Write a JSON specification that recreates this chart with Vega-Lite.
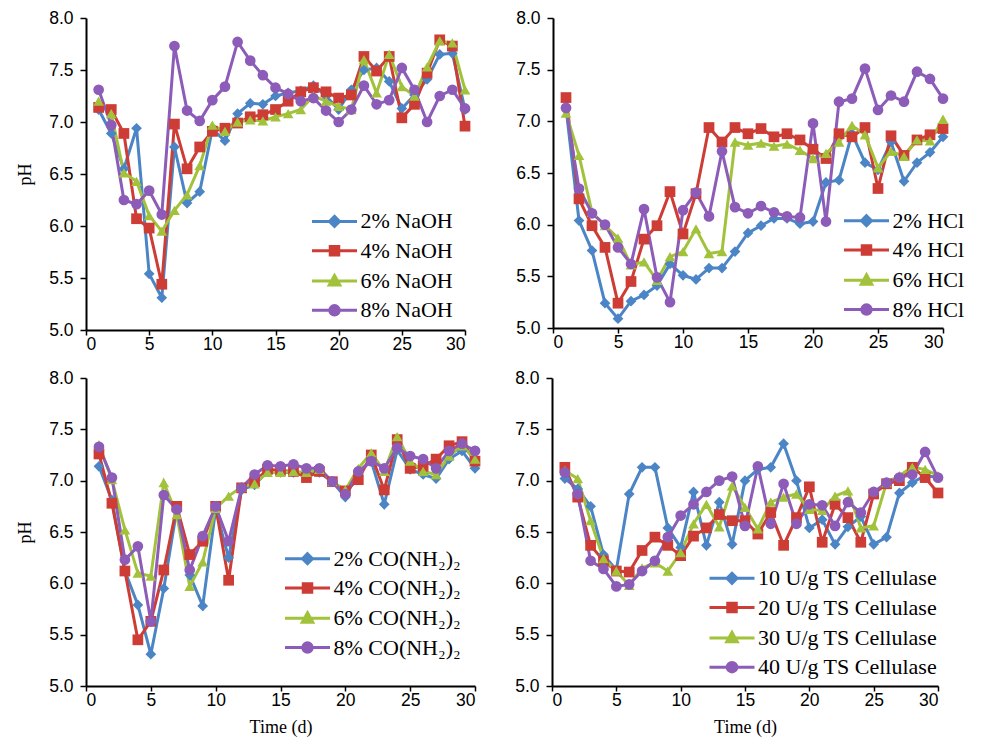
{
  "$schema": "https://vega.github.io/schema/vega-lite/v6.json",
  "background": "white",
  "padding": {"left": 16, "top": 9, "right": 0, "bottom": 0},
  "spacing": 16,
  "datasets": {
    "naoh": [
      {"d":1,"s":"2% NaOH","pH":7.12},{"d":2,"s":"2% NaOH","pH":6.89},{"d":3,"s":"2% NaOH","pH":6.55},{"d":4,"s":"2% NaOH","pH":6.94},{"d":5,"s":"2% NaOH","pH":5.54},{"d":6,"s":"2% NaOH","pH":5.31},{"d":7,"s":"2% NaOH","pH":6.76},{"d":8,"s":"2% NaOH","pH":6.22},{"d":9,"s":"2% NaOH","pH":6.33},{"d":10,"s":"2% NaOH","pH":6.93},{"d":11,"s":"2% NaOH","pH":6.82},{"d":12,"s":"2% NaOH","pH":7.08},{"d":13,"s":"2% NaOH","pH":7.18},{"d":14,"s":"2% NaOH","pH":7.17},{"d":15,"s":"2% NaOH","pH":7.25},{"d":16,"s":"2% NaOH","pH":7.28},{"d":17,"s":"2% NaOH","pH":7.30},{"d":18,"s":"2% NaOH","pH":7.35},{"d":19,"s":"2% NaOH","pH":7.25},{"d":20,"s":"2% NaOH","pH":7.12},{"d":21,"s":"2% NaOH","pH":7.31},{"d":22,"s":"2% NaOH","pH":7.50},{"d":23,"s":"2% NaOH","pH":7.52},{"d":24,"s":"2% NaOH","pH":7.39},{"d":25,"s":"2% NaOH","pH":7.13},{"d":26,"s":"2% NaOH","pH":7.26},{"d":27,"s":"2% NaOH","pH":7.41},{"d":28,"s":"2% NaOH","pH":7.65},{"d":29,"s":"2% NaOH","pH":7.66},{"d":30,"s":"2% NaOH","pH":7.12},
      {"d":1,"s":"4% NaOH","pH":7.14},{"d":2,"s":"4% NaOH","pH":7.12},{"d":3,"s":"4% NaOH","pH":6.89},{"d":4,"s":"4% NaOH","pH":6.07},{"d":5,"s":"4% NaOH","pH":5.98},{"d":6,"s":"4% NaOH","pH":5.44},{"d":7,"s":"4% NaOH","pH":6.98},{"d":8,"s":"4% NaOH","pH":6.55},{"d":9,"s":"4% NaOH","pH":6.76},{"d":10,"s":"4% NaOH","pH":6.91},{"d":11,"s":"4% NaOH","pH":6.94},{"d":12,"s":"4% NaOH","pH":6.99},{"d":13,"s":"4% NaOH","pH":7.05},{"d":14,"s":"4% NaOH","pH":7.07},{"d":15,"s":"4% NaOH","pH":7.12},{"d":16,"s":"4% NaOH","pH":7.20},{"d":17,"s":"4% NaOH","pH":7.29},{"d":18,"s":"4% NaOH","pH":7.33},{"d":19,"s":"4% NaOH","pH":7.29},{"d":20,"s":"4% NaOH","pH":7.23},{"d":21,"s":"4% NaOH","pH":7.26},{"d":22,"s":"4% NaOH","pH":7.63},{"d":23,"s":"4% NaOH","pH":7.49},{"d":24,"s":"4% NaOH","pH":7.63},{"d":25,"s":"4% NaOH","pH":7.04},{"d":26,"s":"4% NaOH","pH":7.17},{"d":27,"s":"4% NaOH","pH":7.47},{"d":28,"s":"4% NaOH","pH":7.79},{"d":29,"s":"4% NaOH","pH":7.73},{"d":30,"s":"4% NaOH","pH":6.96},
      {"d":1,"s":"6% NaOH","pH":7.20},{"d":2,"s":"6% NaOH","pH":7.08},{"d":3,"s":"6% NaOH","pH":6.51},{"d":4,"s":"6% NaOH","pH":6.43},{"d":5,"s":"6% NaOH","pH":6.10},{"d":6,"s":"6% NaOH","pH":5.95},{"d":7,"s":"6% NaOH","pH":6.15},{"d":8,"s":"6% NaOH","pH":6.30},{"d":9,"s":"6% NaOH","pH":6.58},{"d":10,"s":"6% NaOH","pH":6.97},{"d":11,"s":"6% NaOH","pH":6.91},{"d":12,"s":"6% NaOH","pH":7.00},{"d":13,"s":"6% NaOH","pH":7.02},{"d":14,"s":"6% NaOH","pH":7.01},{"d":15,"s":"6% NaOH","pH":7.05},{"d":16,"s":"6% NaOH","pH":7.08},{"d":17,"s":"6% NaOH","pH":7.12},{"d":18,"s":"6% NaOH","pH":7.25},{"d":19,"s":"6% NaOH","pH":7.20},{"d":20,"s":"6% NaOH","pH":7.15},{"d":21,"s":"6% NaOH","pH":7.12},{"d":22,"s":"6% NaOH","pH":7.60},{"d":23,"s":"6% NaOH","pH":7.28},{"d":24,"s":"6% NaOH","pH":7.65},{"d":25,"s":"6% NaOH","pH":7.34},{"d":26,"s":"6% NaOH","pH":7.25},{"d":27,"s":"6% NaOH","pH":7.53},{"d":28,"s":"6% NaOH","pH":7.78},{"d":29,"s":"6% NaOH","pH":7.76},{"d":30,"s":"6% NaOH","pH":7.31},
      {"d":1,"s":"8% NaOH","pH":7.31},{"d":2,"s":"8% NaOH","pH":6.97},{"d":3,"s":"8% NaOH","pH":6.25},{"d":4,"s":"8% NaOH","pH":6.21},{"d":5,"s":"8% NaOH","pH":6.34},{"d":6,"s":"8% NaOH","pH":6.11},{"d":7,"s":"8% NaOH","pH":7.73},{"d":8,"s":"8% NaOH","pH":7.11},{"d":9,"s":"8% NaOH","pH":7.01},{"d":10,"s":"8% NaOH","pH":7.21},{"d":11,"s":"8% NaOH","pH":7.34},{"d":12,"s":"8% NaOH","pH":7.77},{"d":13,"s":"8% NaOH","pH":7.59},{"d":14,"s":"8% NaOH","pH":7.45},{"d":15,"s":"8% NaOH","pH":7.33},{"d":16,"s":"8% NaOH","pH":7.27},{"d":17,"s":"8% NaOH","pH":7.20},{"d":18,"s":"8% NaOH","pH":7.23},{"d":19,"s":"8% NaOH","pH":7.11},{"d":20,"s":"8% NaOH","pH":7.00},{"d":21,"s":"8% NaOH","pH":7.12},{"d":22,"s":"8% NaOH","pH":7.35},{"d":23,"s":"8% NaOH","pH":7.17},{"d":24,"s":"8% NaOH","pH":7.21},{"d":25,"s":"8% NaOH","pH":7.52},{"d":26,"s":"8% NaOH","pH":7.31},{"d":27,"s":"8% NaOH","pH":7.00},{"d":28,"s":"8% NaOH","pH":7.25},{"d":29,"s":"8% NaOH","pH":7.31},{"d":30,"s":"8% NaOH","pH":7.13}
    ],
    "hcl": [
      {"d":1,"s":"2% HCl","pH":7.13},{"d":2,"s":"2% HCl","pH":6.04},{"d":3,"s":"2% HCl","pH":5.75},{"d":4,"s":"2% HCl","pH":5.24},{"d":5,"s":"2% HCl","pH":5.09},{"d":6,"s":"2% HCl","pH":5.26},{"d":7,"s":"2% HCl","pH":5.32},{"d":8,"s":"2% HCl","pH":5.41},{"d":9,"s":"2% HCl","pH":5.62},{"d":10,"s":"2% HCl","pH":5.51},{"d":11,"s":"2% HCl","pH":5.47},{"d":12,"s":"2% HCl","pH":5.58},{"d":13,"s":"2% HCl","pH":5.58},{"d":14,"s":"2% HCl","pH":5.74},{"d":15,"s":"2% HCl","pH":5.92},{"d":16,"s":"2% HCl","pH":5.99},{"d":17,"s":"2% HCl","pH":6.06},{"d":18,"s":"2% HCl","pH":6.06},{"d":19,"s":"2% HCl","pH":6.01},{"d":20,"s":"2% HCl","pH":6.03},{"d":21,"s":"2% HCl","pH":6.41},{"d":22,"s":"2% HCl","pH":6.43},{"d":23,"s":"2% HCl","pH":6.88},{"d":24,"s":"2% HCl","pH":6.60},{"d":25,"s":"2% HCl","pH":6.53},{"d":26,"s":"2% HCl","pH":6.80},{"d":27,"s":"2% HCl","pH":6.42},{"d":28,"s":"2% HCl","pH":6.60},{"d":29,"s":"2% HCl","pH":6.70},{"d":30,"s":"2% HCl","pH":6.85},
      {"d":1,"s":"4% HCl","pH":7.23},{"d":2,"s":"4% HCl","pH":6.25},{"d":3,"s":"4% HCl","pH":5.99},{"d":4,"s":"4% HCl","pH":5.78},{"d":5,"s":"4% HCl","pH":5.24},{"d":6,"s":"4% HCl","pH":5.45},{"d":7,"s":"4% HCl","pH":5.86},{"d":8,"s":"4% HCl","pH":5.99},{"d":9,"s":"4% HCl","pH":6.32},{"d":10,"s":"4% HCl","pH":5.91},{"d":11,"s":"4% HCl","pH":6.30},{"d":12,"s":"4% HCl","pH":6.94},{"d":13,"s":"4% HCl","pH":6.80},{"d":14,"s":"4% HCl","pH":6.94},{"d":15,"s":"4% HCl","pH":6.88},{"d":16,"s":"4% HCl","pH":6.93},{"d":17,"s":"4% HCl","pH":6.85},{"d":18,"s":"4% HCl","pH":6.88},{"d":19,"s":"4% HCl","pH":6.82},{"d":20,"s":"4% HCl","pH":6.73},{"d":21,"s":"4% HCl","pH":6.64},{"d":22,"s":"4% HCl","pH":6.88},{"d":23,"s":"4% HCl","pH":6.85},{"d":24,"s":"4% HCl","pH":6.94},{"d":25,"s":"4% HCl","pH":6.35},{"d":26,"s":"4% HCl","pH":6.86},{"d":27,"s":"4% HCl","pH":6.67},{"d":28,"s":"4% HCl","pH":6.82},{"d":29,"s":"4% HCl","pH":6.87},{"d":30,"s":"4% HCl","pH":6.93},
      {"d":1,"s":"6% HCl","pH":7.08},{"d":2,"s":"6% HCl","pH":6.67},{"d":3,"s":"6% HCl","pH":6.12},{"d":4,"s":"6% HCl","pH":5.99},{"d":5,"s":"6% HCl","pH":5.87},{"d":6,"s":"6% HCl","pH":5.61},{"d":7,"s":"6% HCl","pH":5.64},{"d":8,"s":"6% HCl","pH":5.46},{"d":9,"s":"6% HCl","pH":5.69},{"d":10,"s":"6% HCl","pH":5.74},{"d":11,"s":"6% HCl","pH":5.96},{"d":12,"s":"6% HCl","pH":5.72},{"d":13,"s":"6% HCl","pH":5.74},{"d":14,"s":"6% HCl","pH":6.80},{"d":15,"s":"6% HCl","pH":6.77},{"d":16,"s":"6% HCl","pH":6.79},{"d":17,"s":"6% HCl","pH":6.76},{"d":18,"s":"6% HCl","pH":6.78},{"d":19,"s":"6% HCl","pH":6.72},{"d":20,"s":"6% HCl","pH":6.64},{"d":21,"s":"6% HCl","pH":6.69},{"d":22,"s":"6% HCl","pH":6.80},{"d":23,"s":"6% HCl","pH":6.96},{"d":24,"s":"6% HCl","pH":6.87},{"d":25,"s":"6% HCl","pH":6.55},{"d":26,"s":"6% HCl","pH":6.71},{"d":27,"s":"6% HCl","pH":6.66},{"d":28,"s":"6% HCl","pH":6.82},{"d":29,"s":"6% HCl","pH":6.81},{"d":30,"s":"6% HCl","pH":7.02},
      {"d":1,"s":"8% HCl","pH":7.13},{"d":2,"s":"8% HCl","pH":6.35},{"d":3,"s":"8% HCl","pH":6.11},{"d":4,"s":"8% HCl","pH":6.00},{"d":5,"s":"8% HCl","pH":5.78},{"d":6,"s":"8% HCl","pH":5.62},{"d":7,"s":"8% HCl","pH":6.15},{"d":8,"s":"8% HCl","pH":5.49},{"d":9,"s":"8% HCl","pH":5.25},{"d":10,"s":"8% HCl","pH":6.14},{"d":11,"s":"8% HCl","pH":6.31},{"d":12,"s":"8% HCl","pH":6.08},{"d":13,"s":"8% HCl","pH":6.71},{"d":14,"s":"8% HCl","pH":6.17},{"d":15,"s":"8% HCl","pH":6.11},{"d":16,"s":"8% HCl","pH":6.18},{"d":17,"s":"8% HCl","pH":6.12},{"d":18,"s":"8% HCl","pH":6.08},{"d":19,"s":"8% HCl","pH":6.07},{"d":20,"s":"8% HCl","pH":6.98},{"d":21,"s":"8% HCl","pH":6.03},{"d":22,"s":"8% HCl","pH":7.19},{"d":23,"s":"8% HCl","pH":7.22},{"d":24,"s":"8% HCl","pH":7.51},{"d":25,"s":"8% HCl","pH":7.11},{"d":26,"s":"8% HCl","pH":7.25},{"d":27,"s":"8% HCl","pH":7.19},{"d":28,"s":"8% HCl","pH":7.48},{"d":29,"s":"8% HCl","pH":7.41},{"d":30,"s":"8% HCl","pH":7.22}
    ],
    "urea": [
      {"d":1,"s":"2% CO(NH₂)₂","pH":7.14},{"d":2,"s":"2% CO(NH₂)₂","pH":6.81},{"d":3,"s":"2% CO(NH₂)₂","pH":6.12},{"d":4,"s":"2% CO(NH₂)₂","pH":5.79},{"d":5,"s":"2% CO(NH₂)₂","pH":5.31},{"d":6,"s":"2% CO(NH₂)₂","pH":5.95},{"d":7,"s":"2% CO(NH₂)₂","pH":6.72},{"d":8,"s":"2% CO(NH₂)₂","pH":6.08},{"d":9,"s":"2% CO(NH₂)₂","pH":5.78},{"d":10,"s":"2% CO(NH₂)₂","pH":6.72},{"d":11,"s":"2% CO(NH₂)₂","pH":6.25},{"d":12,"s":"2% CO(NH₂)₂","pH":6.91},{"d":13,"s":"2% CO(NH₂)₂","pH":6.96},{"d":14,"s":"2% CO(NH₂)₂","pH":7.09},{"d":15,"s":"2% CO(NH₂)₂","pH":7.08},{"d":16,"s":"2% CO(NH₂)₂","pH":7.08},{"d":17,"s":"2% CO(NH₂)₂","pH":7.06},{"d":18,"s":"2% CO(NH₂)₂","pH":7.08},{"d":19,"s":"2% CO(NH₂)₂","pH":6.99},{"d":20,"s":"2% CO(NH₂)₂","pH":6.84},{"d":21,"s":"2% CO(NH₂)₂","pH":7.08},{"d":22,"s":"2% CO(NH₂)₂","pH":7.19},{"d":23,"s":"2% CO(NH₂)₂","pH":6.77},{"d":24,"s":"2% CO(NH₂)₂","pH":7.30},{"d":25,"s":"2% CO(NH₂)₂","pH":7.11},{"d":26,"s":"2% CO(NH₂)₂","pH":7.06},{"d":27,"s":"2% CO(NH₂)₂","pH":7.02},{"d":28,"s":"2% CO(NH₂)₂","pH":7.21},{"d":29,"s":"2% CO(NH₂)₂","pH":7.29},{"d":30,"s":"2% CO(NH₂)₂","pH":7.12},
      {"d":1,"s":"4% CO(NH₂)₂","pH":7.26},{"d":2,"s":"4% CO(NH₂)₂","pH":6.78},{"d":3,"s":"4% CO(NH₂)₂","pH":6.12},{"d":4,"s":"4% CO(NH₂)₂","pH":5.45},{"d":5,"s":"4% CO(NH₂)₂","pH":5.63},{"d":6,"s":"4% CO(NH₂)₂","pH":6.13},{"d":7,"s":"4% CO(NH₂)₂","pH":6.75},{"d":8,"s":"4% CO(NH₂)₂","pH":6.28},{"d":9,"s":"4% CO(NH₂)₂","pH":6.41},{"d":10,"s":"4% CO(NH₂)₂","pH":6.75},{"d":11,"s":"4% CO(NH₂)₂","pH":6.03},{"d":12,"s":"4% CO(NH₂)₂","pH":6.93},{"d":13,"s":"4% CO(NH₂)₂","pH":6.99},{"d":14,"s":"4% CO(NH₂)₂","pH":7.11},{"d":15,"s":"4% CO(NH₂)₂","pH":7.10},{"d":16,"s":"4% CO(NH₂)₂","pH":7.09},{"d":17,"s":"4% CO(NH₂)₂","pH":7.03},{"d":18,"s":"4% CO(NH₂)₂","pH":7.09},{"d":19,"s":"4% CO(NH₂)₂","pH":6.99},{"d":20,"s":"4% CO(NH₂)₂","pH":6.90},{"d":21,"s":"4% CO(NH₂)₂","pH":7.01},{"d":22,"s":"4% CO(NH₂)₂","pH":7.25},{"d":23,"s":"4% CO(NH₂)₂","pH":6.91},{"d":24,"s":"4% CO(NH₂)₂","pH":7.40},{"d":25,"s":"4% CO(NH₂)₂","pH":7.12},{"d":26,"s":"4% CO(NH₂)₂","pH":7.14},{"d":27,"s":"4% CO(NH₂)₂","pH":7.21},{"d":28,"s":"4% CO(NH₂)₂","pH":7.34},{"d":29,"s":"4% CO(NH₂)₂","pH":7.38},{"d":30,"s":"4% CO(NH₂)₂","pH":7.19},
      {"d":1,"s":"6% CO(NH₂)₂","pH":7.35},{"d":2,"s":"6% CO(NH₂)₂","pH":7.01},{"d":3,"s":"6% CO(NH₂)₂","pH":6.52},{"d":4,"s":"6% CO(NH₂)₂","pH":6.10},{"d":5,"s":"6% CO(NH₂)₂","pH":6.07},{"d":6,"s":"6% CO(NH₂)₂","pH":6.98},{"d":7,"s":"6% CO(NH₂)₂","pH":6.67},{"d":8,"s":"6% CO(NH₂)₂","pH":5.97},{"d":9,"s":"6% CO(NH₂)₂","pH":6.21},{"d":10,"s":"6% CO(NH₂)₂","pH":6.73},{"d":11,"s":"6% CO(NH₂)₂","pH":6.85},{"d":12,"s":"6% CO(NH₂)₂","pH":6.94},{"d":13,"s":"6% CO(NH₂)₂","pH":6.97},{"d":14,"s":"6% CO(NH₂)₂","pH":7.08},{"d":15,"s":"6% CO(NH₂)₂","pH":7.08},{"d":16,"s":"6% CO(NH₂)₂","pH":7.09},{"d":17,"s":"6% CO(NH₂)₂","pH":7.08},{"d":18,"s":"6% CO(NH₂)₂","pH":7.11},{"d":19,"s":"6% CO(NH₂)₂","pH":6.99},{"d":20,"s":"6% CO(NH₂)₂","pH":6.91},{"d":21,"s":"6% CO(NH₂)₂","pH":7.12},{"d":22,"s":"6% CO(NH₂)₂","pH":7.27},{"d":23,"s":"6% CO(NH₂)₂","pH":7.09},{"d":24,"s":"6% CO(NH₂)₂","pH":7.43},{"d":25,"s":"6% CO(NH₂)₂","pH":7.19},{"d":26,"s":"6% CO(NH₂)₂","pH":7.09},{"d":27,"s":"6% CO(NH₂)₂","pH":7.06},{"d":28,"s":"6% CO(NH₂)₂","pH":7.24},{"d":29,"s":"6% CO(NH₂)₂","pH":7.34},{"d":30,"s":"6% CO(NH₂)₂","pH":7.21},
      {"d":1,"s":"8% CO(NH₂)₂","pH":7.33},{"d":2,"s":"8% CO(NH₂)₂","pH":7.03},{"d":3,"s":"8% CO(NH₂)₂","pH":6.23},{"d":4,"s":"8% CO(NH₂)₂","pH":6.36},{"d":5,"s":"8% CO(NH₂)₂","pH":5.63},{"d":6,"s":"8% CO(NH₂)₂","pH":6.86},{"d":7,"s":"8% CO(NH₂)₂","pH":6.72},{"d":8,"s":"8% CO(NH₂)₂","pH":6.13},{"d":9,"s":"8% CO(NH₂)₂","pH":6.46},{"d":10,"s":"8% CO(NH₂)₂","pH":6.75},{"d":11,"s":"8% CO(NH₂)₂","pH":6.41},{"d":12,"s":"8% CO(NH₂)₂","pH":6.93},{"d":13,"s":"8% CO(NH₂)₂","pH":7.06},{"d":14,"s":"8% CO(NH₂)₂","pH":7.15},{"d":15,"s":"8% CO(NH₂)₂","pH":7.14},{"d":16,"s":"8% CO(NH₂)₂","pH":7.16},{"d":17,"s":"8% CO(NH₂)₂","pH":7.12},{"d":18,"s":"8% CO(NH₂)₂","pH":7.12},{"d":19,"s":"8% CO(NH₂)₂","pH":6.99},{"d":20,"s":"8% CO(NH₂)₂","pH":6.87},{"d":21,"s":"8% CO(NH₂)₂","pH":7.09},{"d":22,"s":"8% CO(NH₂)₂","pH":7.19},{"d":23,"s":"8% CO(NH₂)₂","pH":7.12},{"d":24,"s":"8% CO(NH₂)₂","pH":7.32},{"d":25,"s":"8% CO(NH₂)₂","pH":7.24},{"d":26,"s":"8% CO(NH₂)₂","pH":7.21},{"d":27,"s":"8% CO(NH₂)₂","pH":7.12},{"d":28,"s":"8% CO(NH₂)₂","pH":7.29},{"d":29,"s":"8% CO(NH₂)₂","pH":7.36},{"d":30,"s":"8% CO(NH₂)₂","pH":7.29}
    ],
    "cell": [
      {"d":1,"s":"10 U/g TS Cellulase","pH":7.02},{"d":2,"s":"10 U/g TS Cellulase","pH":6.92},{"d":3,"s":"10 U/g TS Cellulase","pH":6.75},{"d":4,"s":"10 U/g TS Cellulase","pH":6.28},{"d":5,"s":"10 U/g TS Cellulase","pH":6.13},{"d":6,"s":"10 U/g TS Cellulase","pH":6.87},{"d":7,"s":"10 U/g TS Cellulase","pH":7.13},{"d":8,"s":"10 U/g TS Cellulase","pH":7.13},{"d":9,"s":"10 U/g TS Cellulase","pH":6.54},{"d":10,"s":"10 U/g TS Cellulase","pH":6.35},{"d":11,"s":"10 U/g TS Cellulase","pH":6.89},{"d":12,"s":"10 U/g TS Cellulase","pH":6.37},{"d":13,"s":"10 U/g TS Cellulase","pH":6.79},{"d":14,"s":"10 U/g TS Cellulase","pH":6.38},{"d":15,"s":"10 U/g TS Cellulase","pH":7.00},{"d":16,"s":"10 U/g TS Cellulase","pH":7.11},{"d":17,"s":"10 U/g TS Cellulase","pH":7.13},{"d":18,"s":"10 U/g TS Cellulase","pH":7.36},{"d":19,"s":"10 U/g TS Cellulase","pH":7.00},{"d":20,"s":"10 U/g TS Cellulase","pH":6.54},{"d":21,"s":"10 U/g TS Cellulase","pH":6.62},{"d":22,"s":"10 U/g TS Cellulase","pH":6.38},{"d":23,"s":"10 U/g TS Cellulase","pH":6.55},{"d":24,"s":"10 U/g TS Cellulase","pH":6.65},{"d":25,"s":"10 U/g TS Cellulase","pH":6.38},{"d":26,"s":"10 U/g TS Cellulase","pH":6.45},{"d":27,"s":"10 U/g TS Cellulase","pH":6.88},{"d":28,"s":"10 U/g TS Cellulase","pH":6.98},{"d":29,"s":"10 U/g TS Cellulase","pH":7.05},{"d":30,"s":"10 U/g TS Cellulase","pH":7.03},
      {"d":1,"s":"20 U/g TS Cellulase","pH":7.13},{"d":2,"s":"20 U/g TS Cellulase","pH":6.84},{"d":3,"s":"20 U/g TS Cellulase","pH":6.37},{"d":4,"s":"20 U/g TS Cellulase","pH":6.22},{"d":5,"s":"20 U/g TS Cellulase","pH":6.12},{"d":6,"s":"20 U/g TS Cellulase","pH":6.11},{"d":7,"s":"20 U/g TS Cellulase","pH":6.32},{"d":8,"s":"20 U/g TS Cellulase","pH":6.45},{"d":9,"s":"20 U/g TS Cellulase","pH":6.37},{"d":10,"s":"20 U/g TS Cellulase","pH":6.27},{"d":11,"s":"20 U/g TS Cellulase","pH":6.46},{"d":12,"s":"20 U/g TS Cellulase","pH":6.54},{"d":13,"s":"20 U/g TS Cellulase","pH":6.67},{"d":14,"s":"20 U/g TS Cellulase","pH":6.61},{"d":15,"s":"20 U/g TS Cellulase","pH":6.61},{"d":16,"s":"20 U/g TS Cellulase","pH":6.48},{"d":17,"s":"20 U/g TS Cellulase","pH":6.69},{"d":18,"s":"20 U/g TS Cellulase","pH":6.37},{"d":19,"s":"20 U/g TS Cellulase","pH":6.64},{"d":20,"s":"20 U/g TS Cellulase","pH":6.94},{"d":21,"s":"20 U/g TS Cellulase","pH":6.40},{"d":22,"s":"20 U/g TS Cellulase","pH":6.77},{"d":23,"s":"20 U/g TS Cellulase","pH":6.64},{"d":24,"s":"20 U/g TS Cellulase","pH":6.40},{"d":25,"s":"20 U/g TS Cellulase","pH":6.87},{"d":26,"s":"20 U/g TS Cellulase","pH":6.97},{"d":27,"s":"20 U/g TS Cellulase","pH":7.00},{"d":28,"s":"20 U/g TS Cellulase","pH":7.13},{"d":29,"s":"20 U/g TS Cellulase","pH":7.03},{"d":30,"s":"20 U/g TS Cellulase","pH":6.88},
      {"d":1,"s":"30 U/g TS Cellulase","pH":7.10},{"d":2,"s":"30 U/g TS Cellulase","pH":7.02},{"d":3,"s":"30 U/g TS Cellulase","pH":6.61},{"d":4,"s":"30 U/g TS Cellulase","pH":6.24},{"d":5,"s":"30 U/g TS Cellulase","pH":6.12},{"d":6,"s":"30 U/g TS Cellulase","pH":5.98},{"d":7,"s":"30 U/g TS Cellulase","pH":6.15},{"d":8,"s":"30 U/g TS Cellulase","pH":6.20},{"d":9,"s":"30 U/g TS Cellulase","pH":6.12},{"d":10,"s":"30 U/g TS Cellulase","pH":6.30},{"d":11,"s":"30 U/g TS Cellulase","pH":6.58},{"d":12,"s":"30 U/g TS Cellulase","pH":6.77},{"d":13,"s":"30 U/g TS Cellulase","pH":6.55},{"d":14,"s":"30 U/g TS Cellulase","pH":6.95},{"d":15,"s":"30 U/g TS Cellulase","pH":6.74},{"d":16,"s":"30 U/g TS Cellulase","pH":6.53},{"d":17,"s":"30 U/g TS Cellulase","pH":6.79},{"d":18,"s":"30 U/g TS Cellulase","pH":6.84},{"d":19,"s":"30 U/g TS Cellulase","pH":6.87},{"d":20,"s":"30 U/g TS Cellulase","pH":6.72},{"d":21,"s":"30 U/g TS Cellulase","pH":6.71},{"d":22,"s":"30 U/g TS Cellulase","pH":6.85},{"d":23,"s":"30 U/g TS Cellulase","pH":6.90},{"d":24,"s":"30 U/g TS Cellulase","pH":6.54},{"d":25,"s":"30 U/g TS Cellulase","pH":6.56},{"d":26,"s":"30 U/g TS Cellulase","pH":6.98},{"d":27,"s":"30 U/g TS Cellulase","pH":7.05},{"d":28,"s":"30 U/g TS Cellulase","pH":7.13},{"d":29,"s":"30 U/g TS Cellulase","pH":7.11},{"d":30,"s":"30 U/g TS Cellulase","pH":7.05},
      {"d":1,"s":"40 U/g TS Cellulase","pH":7.08},{"d":2,"s":"40 U/g TS Cellulase","pH":6.87},{"d":3,"s":"40 U/g TS Cellulase","pH":6.22},{"d":4,"s":"40 U/g TS Cellulase","pH":6.14},{"d":5,"s":"40 U/g TS Cellulase","pH":5.97},{"d":6,"s":"40 U/g TS Cellulase","pH":5.99},{"d":7,"s":"40 U/g TS Cellulase","pH":6.12},{"d":8,"s":"40 U/g TS Cellulase","pH":6.22},{"d":9,"s":"40 U/g TS Cellulase","pH":6.45},{"d":10,"s":"40 U/g TS Cellulase","pH":6.66},{"d":11,"s":"40 U/g TS Cellulase","pH":6.77},{"d":12,"s":"40 U/g TS Cellulase","pH":6.89},{"d":13,"s":"40 U/g TS Cellulase","pH":7.00},{"d":14,"s":"40 U/g TS Cellulase","pH":7.04},{"d":15,"s":"40 U/g TS Cellulase","pH":6.56},{"d":16,"s":"40 U/g TS Cellulase","pH":7.14},{"d":17,"s":"40 U/g TS Cellulase","pH":6.58},{"d":18,"s":"40 U/g TS Cellulase","pH":6.97},{"d":19,"s":"40 U/g TS Cellulase","pH":6.58},{"d":20,"s":"40 U/g TS Cellulase","pH":6.77},{"d":21,"s":"40 U/g TS Cellulase","pH":6.76},{"d":22,"s":"40 U/g TS Cellulase","pH":6.56},{"d":23,"s":"40 U/g TS Cellulase","pH":6.79},{"d":24,"s":"40 U/g TS Cellulase","pH":6.69},{"d":25,"s":"40 U/g TS Cellulase","pH":6.89},{"d":26,"s":"40 U/g TS Cellulase","pH":6.98},{"d":27,"s":"40 U/g TS Cellulase","pH":7.03},{"d":28,"s":"40 U/g TS Cellulase","pH":7.06},{"d":29,"s":"40 U/g TS Cellulase","pH":7.28},{"d":30,"s":"40 U/g TS Cellulase","pH":7.03}
    ]
  },
  "resolve": {"scale": {"color": "independent", "shape": "independent"}, "legend": {"color": "independent"}},
  "vconcat": [
    {
      "spacing": 44,
      "resolve": {"scale": {"color": "independent", "shape": "independent"}, "legend": {"color": "independent"}},
      "hconcat": [
        {
          "width": 379, "height": 312,
          "data": {"name": "naoh"},
          "encoding": {
            "x": {"field": "d", "type": "quantitative", "scale": {"domain": [0, 30], "nice": false}, "axis": {"values": [0,5,10,15,20,25,30], "title": null}},
            "y": {"field": "pH", "type": "quantitative", "scale": {"domain": [5, 8], "nice": false, "zero": false}, "axis": {"values": [5,5.5,6,6.5,7,7.5,8], "format": ".1f", "title": "pH"}},
            "color": {"field": "s", "type": "nominal", "sort": null, "scale": {"domain": ["2% NaOH","4% NaOH","6% NaOH","8% NaOH"], "range": ["#4b85c5","#cd3d35","#a2c23c","#8c5cb8"]},
              "legend": {"legendX": 237.5, "legendY": 192.4, "encode": {"symbols": {"update": {"shape": {"signal": "['M-4.5,0H4.5M0,-1L1,0L0,1L-1,0Z','M-4.5,0H4.5M-0.85,-0.85H0.85V0.85H-0.85Z','M-4.5,0H4.5M0,-1.1L1.05,0.78L-1.05,0.78Z','M-4.5,0H4.5M0.95,0A0.95,0.95,0,1,1,-0.95,0A0.95,0.95,0,1,1,0.95,0Z'][datum.index]"}, "size": {"value": 100}, "strokeWidth": {"value": 3}, "opacity": {"value": 1}, "stroke": {"signal": "['#4b85c5','#cd3d35','#a2c23c','#8c5cb8'][datum.index]"}, "fill": {"signal": "['#4b85c5','#cd3d35','#a2c23c','#8c5cb8'][datum.index]"}}}}}}
          },
          "layer": [
            {"mark": {"type": "line", "strokeWidth": 3}},
            {"mark": {"type": "point", "filled": true, "opacity": 1, "size": 115},
             "encoding": {"shape": {"field": "s", "type": "nominal", "scale": {"range": ["diamond","square","triangle-up","circle"]}, "legend": null}}}
          ]
        },
        {
          "width": 390, "height": 310,
          "data": {"name": "hcl"},
          "encoding": {
            "x": {"field": "d", "type": "quantitative", "scale": {"domain": [0, 30], "nice": false}, "axis": {"values": [0,5,10,15,20,25,30], "title": null}},
            "y": {"field": "pH", "type": "quantitative", "scale": {"domain": [5, 8], "nice": false, "zero": false}, "axis": {"values": [5,5.5,6,6.5,7,7.5,8], "format": ".1f", "title": null}},
            "color": {"field": "s", "type": "nominal", "sort": null, "scale": {"domain": ["2% HCl","4% HCl","6% HCl","8% HCl"], "range": ["#4b85c5","#cd3d35","#a2c23c","#8c5cb8"]},
              "legend": {"legendX": 302.5, "legendY": 191.7, "encode": {"symbols": {"update": {"shape": {"signal": "['M-4.5,0H4.5M0,-1L1,0L0,1L-1,0Z','M-4.5,0H4.5M-0.85,-0.85H0.85V0.85H-0.85Z','M-4.5,0H4.5M0,-1.1L1.05,0.78L-1.05,0.78Z','M-4.5,0H4.5M0.95,0A0.95,0.95,0,1,1,-0.95,0A0.95,0.95,0,1,1,0.95,0Z'][datum.index]"}, "size": {"value": 100}, "strokeWidth": {"value": 3}, "opacity": {"value": 1}, "stroke": {"signal": "['#4b85c5','#cd3d35','#a2c23c','#8c5cb8'][datum.index]"}, "fill": {"signal": "['#4b85c5','#cd3d35','#a2c23c','#8c5cb8'][datum.index]"}}}}}}
          },
          "layer": [
            {"mark": {"type": "line", "strokeWidth": 3}},
            {"mark": {"type": "point", "filled": true, "opacity": 1, "size": 115},
             "encoding": {"shape": {"field": "s", "type": "nominal", "scale": {"range": ["diamond","square","triangle-up","circle"]}, "legend": null}}}
          ]
        }
      ]
    },
    {
      "spacing": 33,
      "resolve": {"scale": {"color": "independent", "shape": "independent"}, "legend": {"color": "independent"}},
      "hconcat": [
        {
          "width": 389, "height": 308,
          "data": {"name": "urea"},
          "encoding": {
            "x": {"field": "d", "type": "quantitative", "scale": {"domain": [0, 30], "nice": false}, "axis": {"values": [0,5,10,15,20,25,30], "title": "Time (d)"}},
            "y": {"field": "pH", "type": "quantitative", "scale": {"domain": [5, 8], "nice": false, "zero": false}, "axis": {"values": [5,5.5,6,6.5,7,7.5,8], "format": ".1f", "title": "pH"}},
            "color": {"field": "s", "type": "nominal", "sort": null, "scale": {"domain": ["2% CO(NH₂)₂","4% CO(NH₂)₂","6% CO(NH₂)₂","8% CO(NH₂)₂"], "range": ["#4b85c5","#cd3d35","#a2c23c","#8c5cb8"]},
              "legend": {"legendX": 210.5, "legendY": 169.7, "encode": {"symbols": {"update": {"shape": {"signal": "['M-4.5,0H4.5M0,-1L1,0L0,1L-1,0Z','M-4.5,0H4.5M-0.85,-0.85H0.85V0.85H-0.85Z','M-4.5,0H4.5M0,-1.1L1.05,0.78L-1.05,0.78Z','M-4.5,0H4.5M0.95,0A0.95,0.95,0,1,1,-0.95,0A0.95,0.95,0,1,1,0.95,0Z'][datum.index]"}, "size": {"value": 100}, "strokeWidth": {"value": 3}, "opacity": {"value": 1}, "stroke": {"signal": "['#4b85c5','#cd3d35','#a2c23c','#8c5cb8'][datum.index]"}, "fill": {"signal": "['#4b85c5','#cd3d35','#a2c23c','#8c5cb8'][datum.index]"}}}}}}
          },
          "layer": [
            {"mark": {"type": "line", "strokeWidth": 3}},
            {"mark": {"type": "point", "filled": true, "opacity": 1, "size": 115},
             "encoding": {"shape": {"field": "s", "type": "nominal", "scale": {"range": ["diamond","square","triangle-up","circle"]}, "legend": null}}}
          ]
        },
        {
          "width": 386, "height": 308,
          "data": {"name": "cell"},
          "encoding": {
            "x": {"field": "d", "type": "quantitative", "scale": {"domain": [0, 30], "nice": false}, "axis": {"values": [0,5,10,15,20,25,30], "title": "Time (d)"}},
            "y": {"field": "pH", "type": "quantitative", "scale": {"domain": [5, 8], "nice": false, "zero": false}, "axis": {"values": [5,5.5,6,6.5,7,7.5,8], "format": ".1f", "title": null}},
            "color": {"field": "s", "type": "nominal", "sort": null, "scale": {"domain": ["10 U/g TS Cellulase","20 U/g TS Cellulase","30 U/g TS Cellulase","40 U/g TS Cellulase"], "range": ["#4b85c5","#cd3d35","#a2c23c","#8c5cb8"]},
              "legend": {"legendX": 169, "legendY": 189.3, "encode": {"symbols": {"update": {"shape": {"signal": "['M-4.5,0H4.5M0,-1L1,0L0,1L-1,0Z','M-4.5,0H4.5M-0.85,-0.85H0.85V0.85H-0.85Z','M-4.5,0H4.5M0,-1.1L1.05,0.78L-1.05,0.78Z','M-4.5,0H4.5M0.95,0A0.95,0.95,0,1,1,-0.95,0A0.95,0.95,0,1,1,0.95,0Z'][datum.index]"}, "size": {"value": 100}, "strokeWidth": {"value": 3}, "opacity": {"value": 1}, "stroke": {"signal": "['#4b85c5','#cd3d35','#a2c23c','#8c5cb8'][datum.index]"}, "fill": {"signal": "['#4b85c5','#cd3d35','#a2c23c','#8c5cb8'][datum.index]"}}}}}}
          },
          "layer": [
            {"mark": {"type": "line", "strokeWidth": 3}},
            {"mark": {"type": "point", "filled": true, "opacity": 1, "size": 115},
             "encoding": {"shape": {"field": "s", "type": "nominal", "scale": {"range": ["diamond","square","triangle-up","circle"]}, "legend": null}}}
          ]
        }
      ]
    }
  ],
  "config": {
    "view": {"stroke": null},
    "axis": {"grid": false, "domainColor": "black", "domainWidth": 2, "tickColor": "black", "tickWidth": 1.5, "tickSize": 6, "labelColor": "black", "labelFont": "Liberation Sans", "labelFontSize": 17.5, "titleFont": "Liberation Serif", "titleFontSize": 18, "titleFontWeight": "normal", "titleColor": "black"},
    "axisY": {"labelPadding": 7, "titlePadding": 14},
    "axisX": {"labelPadding": 0, "tickSize": 5, "titlePadding": 10},
    "legend": {"orient": "none", "padding": 0, "offset": 0, "rowPadding": 7.3, "labelOffset": 15, "labelFont": "Liberation Serif", "labelFontSize": 22, "labelColor": "black", "labelLimit": 0, "titleFontSize": 0, "titlePadding": 0}
  }
}
